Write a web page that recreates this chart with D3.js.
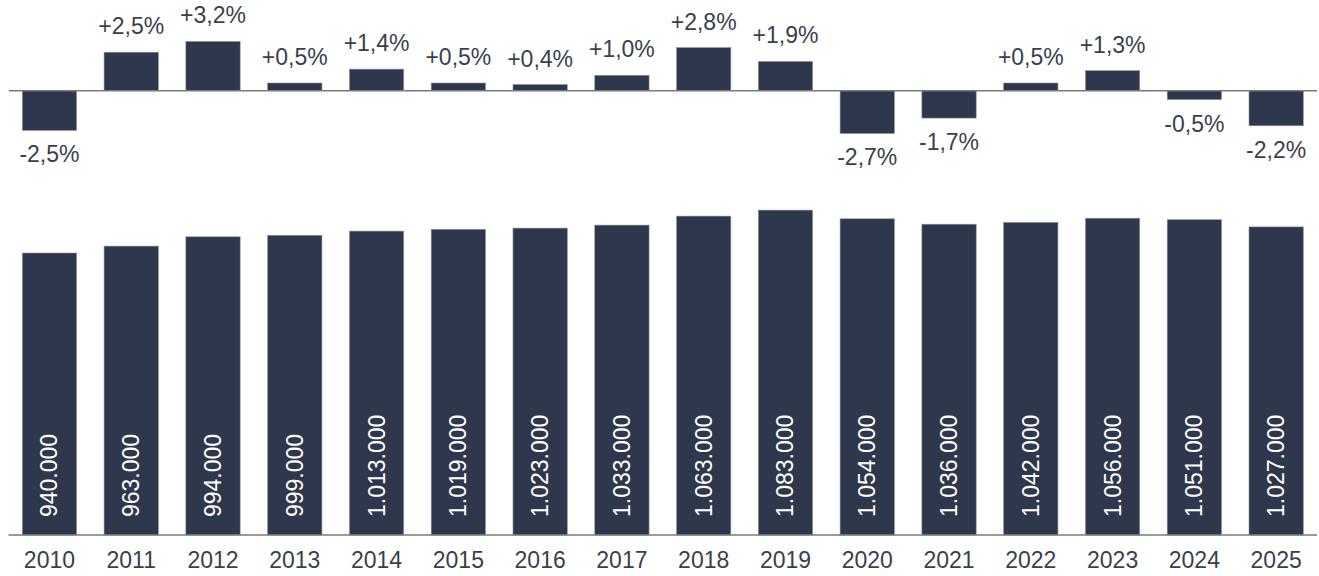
<!DOCTYPE html>
<html>
<head>
<meta charset="utf-8">
<script src="https://cdn.jsdelivr.net/npm/d3@7"></script>
<style>
  html, body { margin: 0; padding: 0; background: #fff; }
  svg { display: block; }
  text { font-family: "Liberation Sans", Arial, sans-serif; }
</style>
</head>
<body>
<svg id="chart" width="1319" height="576"></svg>
<script>
const years = ["2010","2011","2012","2013","2014","2015","2016","2017","2018","2019","2020","2021","2022","2023","2024","2025"];
const population = [940000,963000,994000,999000,1013000,1019000,1023000,1033000,1063000,1083000,1054000,1036000,1042000,1056000,1051000,1027000];
const changePct = [-2.5,2.5,3.2,0.5,1.4,0.5,0.4,1.0,2.8,1.9,-2.7,-1.7,0.5,1.3,-0.5,-2.2];

const barColor = "#2e374b";
const textColor = "#3a3f4b";
const fontSize = 23;

const svg = d3.select("#chart");

const x = d3.scaleBand().domain(years).range([22.3, 1303.3]).paddingInner(0.336).paddingOuter(0);

// ---- top: percent change ----
const topBase = 90.7;
const yPct = d3.scaleLinear().domain([0, 1]).range([topBase, topBase - 15.4]);

const fmtPct = v => (v > 0 ? "+" : v < 0 ? "-" : "") + Math.abs(v).toFixed(1).replace(".", ",") + "%";
const negOffset = 1.2;

const gTop = svg.append("g");
gTop.selectAll("rect").data(changePct).join("rect")
  .attr("x", (d, i) => x(years[i]))
  .attr("width", x.bandwidth())
  .attr("y", d => d >= 0 ? yPct(d) : topBase)
  .attr("height", d => d >= 0 ? yPct(0) - yPct(d) : (yPct(d) - yPct(0)) + negOffset)
  .attr("fill", barColor)
  .attr("stroke", "#8b92a1")
  .attr("stroke-width", 0.6);

gTop.append("line")
  .attr("x1", 9).attr("x2", 1317)
  .attr("y1", topBase).attr("y2", topBase)
  .attr("stroke", "#7a7a7a").attr("stroke-width", 1.5);

gTop.selectAll("text").data(changePct).join("text")
  .attr("x", (d, i) => x(years[i]) + x.bandwidth() / 2)
  .attr("y", d => d >= 0 ? yPct(d) - 18 : yPct(d) + negOffset + 32)
  .attr("text-anchor", "middle")
  .attr("font-size", fontSize)
  .attr("fill", textColor)
  .text(fmtPct);

// ---- bottom: population ----
const botBase = 535;
const yPop = d3.scaleLinear().domain([0, 1000000]).range([botBase, botBase - 300]);
const fmtPop = v => d3.format(",")(v).replace(/,/g, ".");

const gBot = svg.append("g");
gBot.selectAll("rect").data(population).join("rect")
  .attr("x", (d, i) => x(years[i]))
  .attr("width", x.bandwidth())
  .attr("y", d => yPop(d))
  .attr("height", d => yPop(0) - yPop(d))
  .attr("fill", barColor)
  .attr("stroke", "#8b92a1")
  .attr("stroke-width", 0.6);

gBot.selectAll("text.val").data(population).join("text")
  .attr("class", "val")
  .attr("transform", (d, i) => `translate(${x(years[i]) + x.bandwidth() / 2},${botBase - 18}) rotate(-90)`)
  .attr("dominant-baseline", "central")
  .attr("text-anchor", "start")
  .attr("font-size", fontSize)
  .attr("fill", "#ffffff")
  .text(fmtPop);

gBot.append("line")
  .attr("x1", 8.5).attr("x2", 1317)
  .attr("y1", botBase).attr("y2", botBase)
  .attr("stroke", "#7a7a7a").attr("stroke-width", 1.5);

const xAxis = d3.axisBottom(x).tickSize(0).tickPadding(0);
const axG = gBot.append("g").attr("transform", `translate(0,${botBase})`).call(xAxis);
axG.select(".domain").remove();
axG.selectAll("text")
  .attr("font-size", fontSize)
  .attr("font-family", "'Liberation Sans', Arial, sans-serif")
  .attr("fill", textColor)
  .attr("dy", null)
  .attr("y", 33);
</script>
</body>
</html>
